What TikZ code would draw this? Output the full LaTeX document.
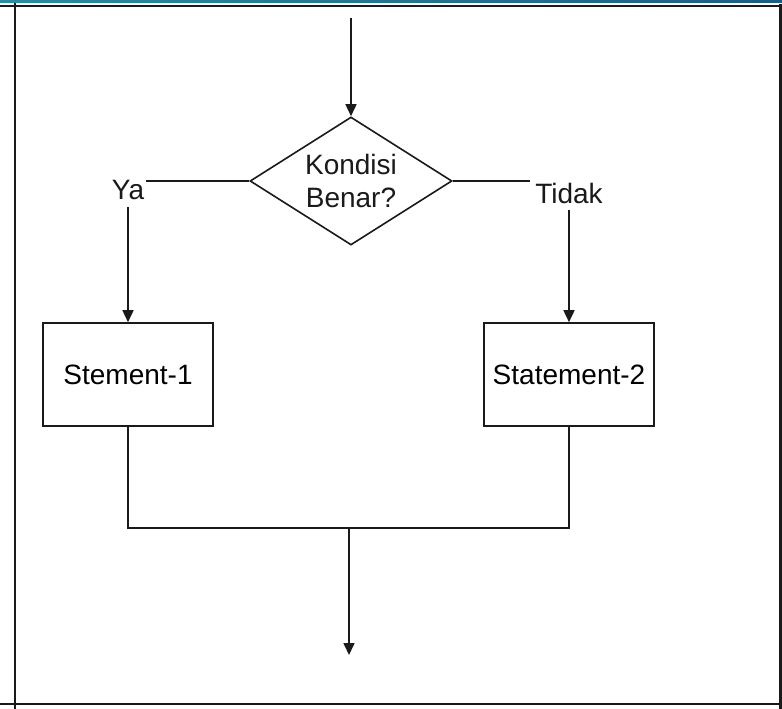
\documentclass[tikz,border=0pt]{standalone}
\usepackage{fontspec}
\setmainfont{Liberation Sans}
\usetikzlibrary{arrows.meta,shapes.geometric}

\definecolor{ink}{HTML}{1A1A1A}
\definecolor{bandL}{HTML}{2A8C9C}
\definecolor{bandR}{HTML}{1C5E80}

\tikzset{
  flow/.style={draw=ink, line width=1.6pt},
  arr/.style={flow, -{Triangle[length=12pt,width=11pt]}},
  procbox/.style={draw=ink, line width=1.6pt, rectangle, minimum width=170pt,
                  minimum height=103pt, inner sep=0pt, font=\fontsize{28}{33}\selectfont},
  decision/.style={draw=ink, line width=1.6pt, diamond, aspect=1.58,
                   minimum width=202pt, minimum height=128pt, inner sep=0pt},
  lbl/.style={font=\fontsize{28}{33}\selectfont, text=ink},
  framerule/.style={draw=ink}
}

\begin{document}
\begin{tikzpicture}[x=1pt, y=-1pt]
  % page area
  \useasboundingbox (0,0) rectangle (782,709);
  \fill[white] (0,0) rectangle (782,709);

  % thin coloured band along the top edge
  \shade[left color=bandL, right color=bandR] (0,0) rectangle (782,2.6);

  % outer frame
  \draw[framerule, line width=2pt] (0,6) -- (782,6);
  \draw[framerule, line width=2pt] (0,704) -- (782,704);
  \draw[framerule, line width=2pt] (15,3) -- (15,709);
  \draw[framerule, line width=3pt] (780.5,4) -- (780.5,709);

  % decision
  \node[decision] (cond) at (351,181) {};
  \node[lbl, align=center] (condtext) at (351,181) {Kondisi\\Benar?};

  % branch labels
  \node[lbl, inner xsep=2pt, inner ysep=7pt] (ya) at (128,190) {Ya};
  \node[lbl, inner xsep=5pt, inner ysep=7pt] (tidak) at (569,193) {Tidak};

  % statements
  \node[procbox] (s1) at (128,374.5) {Stement-1};
  \node[procbox] (s2) at (569,374.5) {Statement-2};

  % free ends
  \coordinate (start) at (351,18);
  \coordinate (join) at (349,528);
  \coordinate (finish) at (349,655);

  % connectors
  \draw[arr] (start) -- (cond.north);
  \draw[flow] (cond.west) -- (cond.west -| ya.east);
  \draw[flow] (cond.east) -- (cond.east -| tidak.west);
  \draw[arr] (ya.south) -- (ya.south |- s1.north);
  \draw[arr] (tidak.south) -- (tidak.south |- s2.north);
  \draw[flow] (s1.south) |- (join) -| (s2.south);
  \draw[arr] (join) -- (finish);
\end{tikzpicture}
\end{document}
